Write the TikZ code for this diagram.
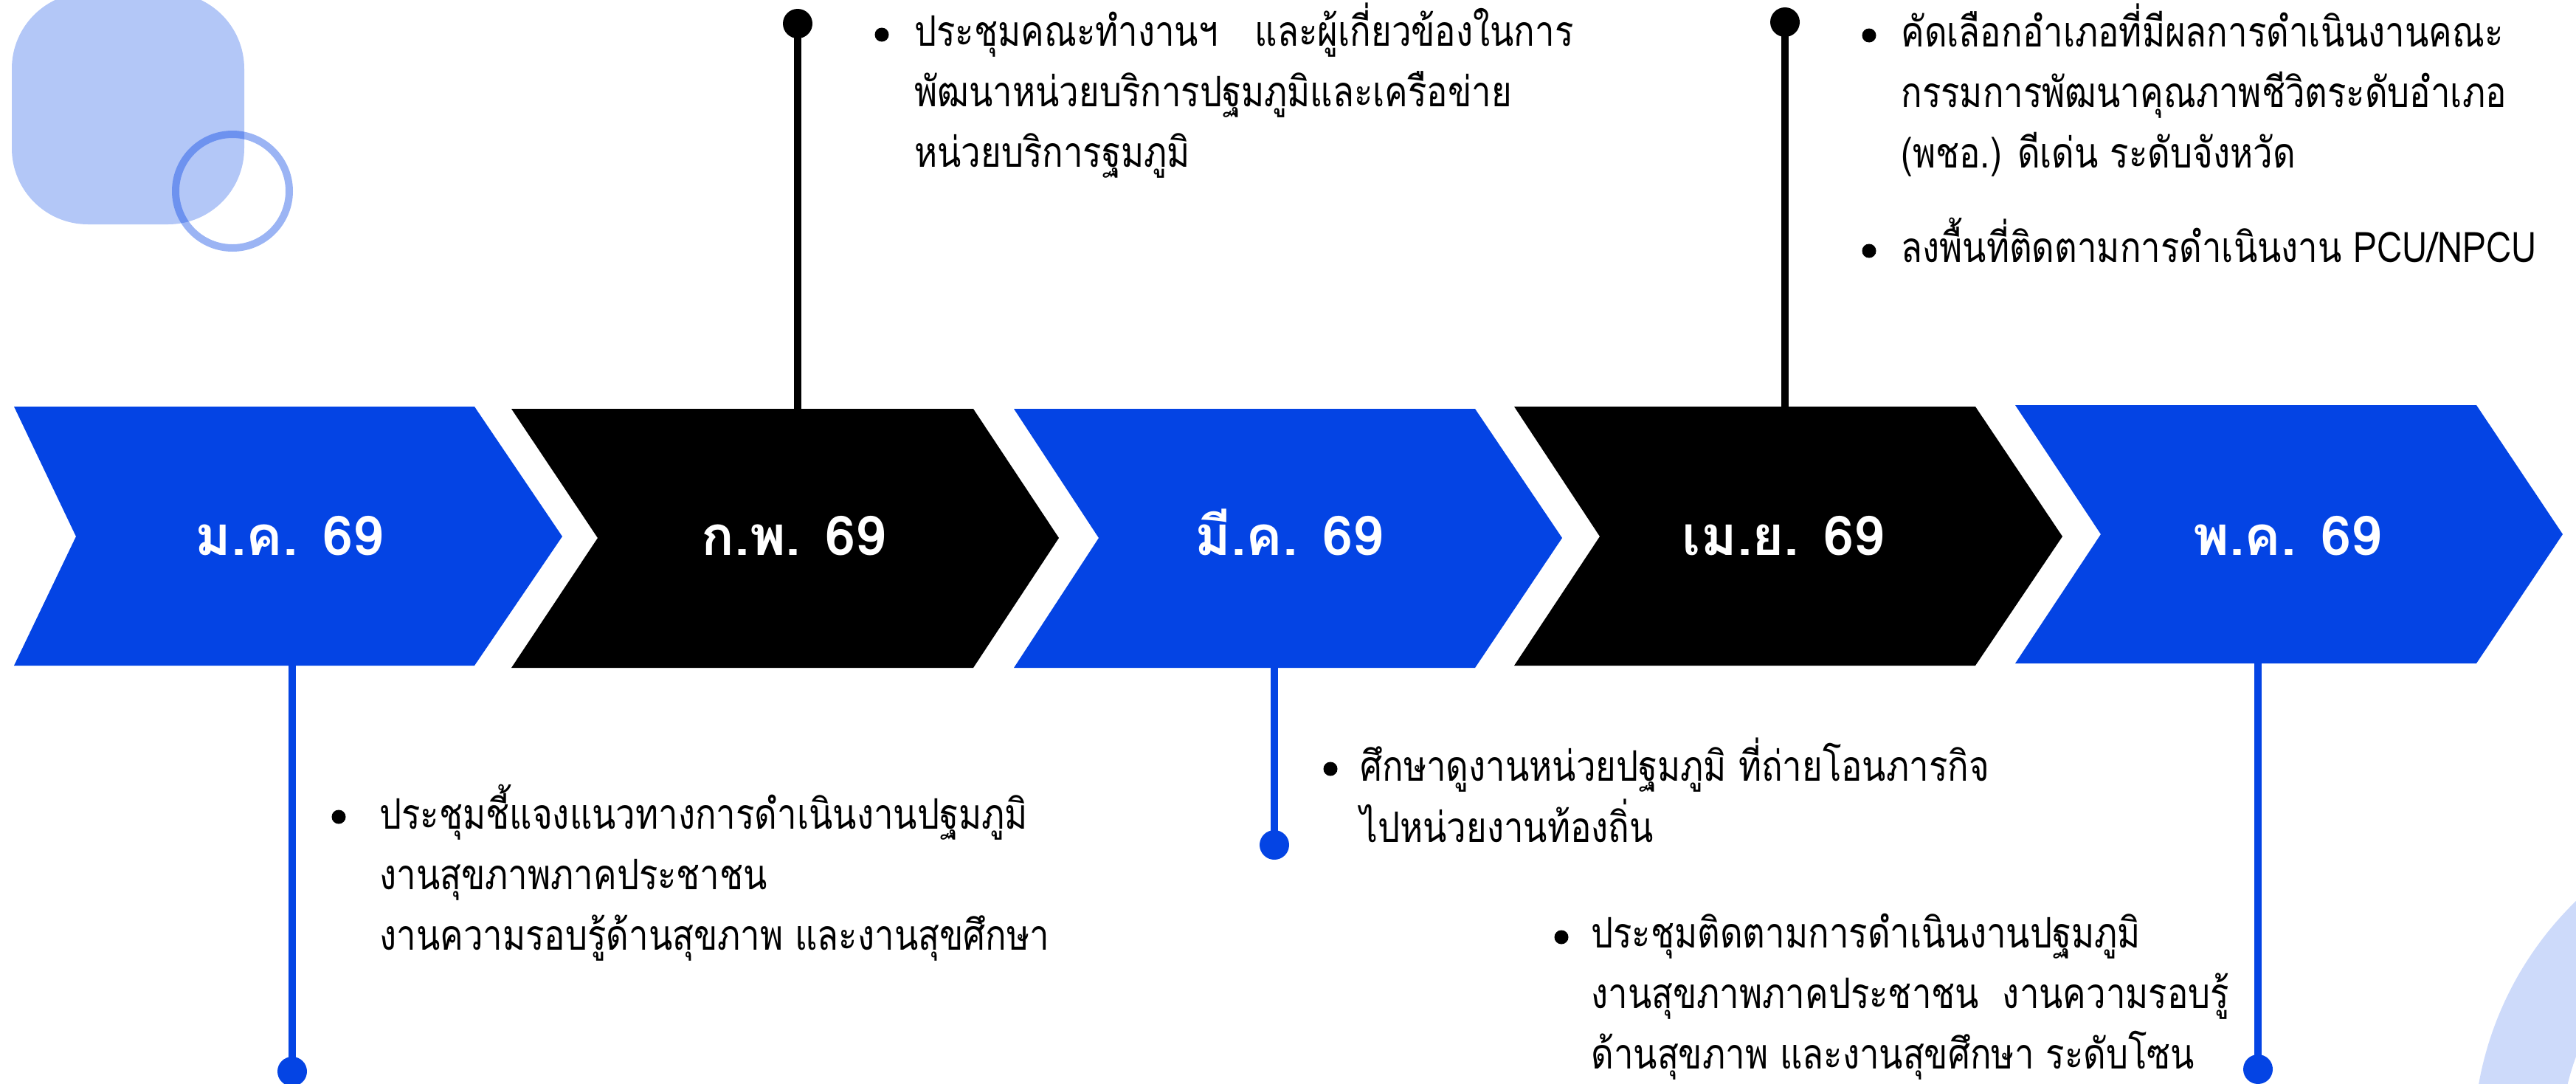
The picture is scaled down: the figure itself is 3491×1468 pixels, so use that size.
\documentclass[tikz,border=0pt]{standalone}
\usepackage{fontspec}
\newfontfamily\thaifont[Script=Thai]{Loma}
\newfontfamily\thainote[Script=Thai,FakeStretch=0.83]{Loma}
\definecolor{tlblue}{RGB}{4,68,228}

\tikzset{
  month/.style={text=white,font=\thaifont\bfseries\fontsize{37}{40}\selectfont,inner sep=0pt,anchor=base},
  note/.style={anchor=base west,inner sep=0pt,font=\thainote\fontsize{28.5}{41}\selectfont},
  bul/.style={circle,fill=black,inner sep=0pt,minimum size=9.5pt},
  enddot/.style={circle,fill=#1,inner sep=0pt,minimum size=20pt},
  stemline/.style={line width=4.7pt,draw=#1}
}

\begin{document}
\begin{tikzpicture}[x=0.5pt,y=0.5pt,yscale=-1,xscale=1]
\useasboundingbox (0,0) rectangle (3491,1468);
\clip (0,0) rectangle (3491,1468);

%Shape: Rounded Square [id:deco1]
\fill [tlblue,opacity=0.3,rounded corners=51.5pt] (16,-10) rectangle (331,304);
%Shape: Ring [id:deco2]
\draw [tlblue,opacity=0.4,line width=5pt] (315,259) circle [radius=38.5pt];
%Shape: Ring [id:deco3]
\draw [tlblue,opacity=0.2,line width=59pt] (3811,1550) circle [radius=200pt];

%Shape: Chevron [id:jan]
\fill [tlblue] (19,551) -- (643,551) -- (762,727) -- (643,902) -- (19,902) -- (103,727) -- cycle ;
%Shape: Chevron [id:feb]
\fill [black] (693,554) -- (1319,554) -- (1435,729) -- (1319,905) -- (693,905) -- (810,729) -- cycle ;
%Shape: Chevron [id:mar]
\fill [tlblue] (1374,554) -- (1999,554) -- (2117,729) -- (1999,905) -- (1374,905) -- (1489,729) -- cycle ;
%Shape: Chevron [id:apr]
\fill [black] (2052,551) -- (2677,551) -- (2795,727) -- (2677,902) -- (2052,902) -- (2168,727) -- cycle ;
%Shape: Chevron [id:may]
\fill [tlblue] (2731,549) -- (3356,549) -- (3473,724) -- (3356,899) -- (2731,899) -- (2847,724) -- cycle ;

% Month Nodes
\node [month] (jan) at (392,752) {ม.ค. 69};
\node [month] (feb) at (1076,752) {ก.พ. 69};
\node [month] (mar) at (1747,752) {มี.ค. 69};
\node [month] (apr) at (2417,752) {เม.ย. 69};
\node [month] (may) at (3100,752) {พ.ค. 69};

% Stem ends on the chevrons
\coordinate (janS) at (396,902);
\coordinate (febN) at (1081,554);
\coordinate (marS) at (1727,905);
\coordinate (aprN) at (2419,551);
\coordinate (mayS) at (3060,899);

% Dots
\node [enddot=tlblue] (janD) at (396,1452) {};
\node [enddot=black] (febD) at (1081,32) {};
\node [enddot=tlblue] (marD) at (1727,1145) {};
\node [enddot=black] (aprD) at (2419,30) {};
\node [enddot=tlblue] (mayD) at (3060,1449) {};

%Straight Lines
\draw [stemline=tlblue] (janS) -- (janD.center) ;
\draw [stemline=black] (febN) -- (febD.center) ;
\draw [stemline=tlblue] (marS) -- (marD.center) ;
\draw [stemline=black] (aprN) -- (aprD.center) ;
\draw [stemline=tlblue] (mayS) -- (mayD.center) ;

% Text Node
\node [bul] (janB) at (459,1107) {};
\node [note] (janT) at (514,1123) {\begin{tabular}[t]{@{}l@{}}ประชุมชี้แจงแนวทางการดำเนินงานปฐมภูมิ\\งานสุขภาพภาคประชาชน\\งานความรอบรู้ด้านสุขภาพ และงานสุขศึกษา\end{tabular}};
% Text Node
\node [bul] (febB) at (1195,47) {};
\node [note] (febT) at (1239,62) {\begin{tabular}[t]{@{}l@{}}ประชุมคณะทำงานฯ\hspace{25pt}และผู้เกี่ยวข้องในการ\\พัฒนาหน่วยบริการปฐมภูมิและเครือข่าย\\หน่วยบริการฐมภูมิ\end{tabular}};
% Text Node
\node [bul] (marB) at (1803,1042) {};
\node [note] (marT) at (1843,1058) {\begin{tabular}[t]{@{}l@{}}ศึกษาดูงานหน่วยปฐมภูมิ ที่ถ่ายโอนภารกิจ\\ไปหน่วยงานท้องถิ่น\end{tabular}};
% Text Node
\node [bul] (aprB) at (2533,48) {};
\node [note] (aprT) at (2576,63) {\begin{tabular}[t]{@{}l@{}}คัดเลือกอำเภอที่มีผลการดำเนินงานคณะ\\กรรมการพัฒนาคุณภาพชีวิตระดับอำเภอ\\(พชอ.) ดีเด่น ระดับจังหวัด\end{tabular}};
\node [bul] (aprB2) at (2533,340) {};
\node [note] (aprT2) at (2576,355) {ลงพื้นที่ติดตามการดำเนินงาน PCU/NPCU};
% Text Node
\node [bul] (mayB) at (2116,1270) {};
\node [note] (mayT) at (2156,1284) {\begin{tabular}[t]{@{}l@{}}ประชุมติดตามการดำเนินงานปฐมภูมิ\\งานสุขภาพภาคประชาชน~ งานความรอบรู้\\ด้านสุขภาพ และงานสุขศึกษา ระดับโซน\end{tabular}};

\end{tikzpicture}
\end{document}
